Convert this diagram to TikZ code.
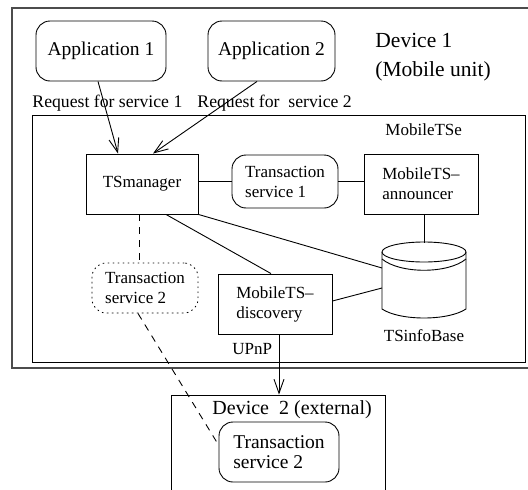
\documentclass[tikz,border=0pt]{standalone}
\usepackage{fontspec}
\setmainfont{Liberation Serif}
\usetikzlibrary{positioning}
\usetikzlibrary{arrows.meta}
\usetikzlibrary{calc}

\tikzset{
  box/.style={draw, inner sep=0pt, align=left, font=\fontsize{17}{20}\selectfont},
  rbox/.style={box, rounded corners=14pt},
  dotbox/.style={rbox, dash pattern=on 1pt off 4pt},
  lbl/.style={inner sep=0pt, anchor=west, font=\fontsize{17}{20}\selectfont},
  req/.style={-{Straight Barb[length=14pt,width=10pt]}},
  link/.style={dash pattern=on 7pt off 6pt},
}

\begin{document}
\begin{tikzpicture}[x=1pt,y=-1pt,line width=0.9pt]
    \clip (0,0) rectangle (528,490);

    % Frames of the two devices and of MobileTSe
    \draw[line width=1.6pt, black!70] (12,8) rectangle (560,368);
    \draw (32,115) rectangle (525,362);
    \node[draw, minimum width=214pt, minimum height=105pt] (dev2) at (278,447.5) {};

    % Applications
    \node[rbox, font=\fontsize{19.5}{23}\selectfont, minimum width=130pt, minimum height=60pt] (app1) at (101,51) {Application 1};
    \node[rbox, font=\fontsize{19.5}{23}\selectfont, minimum width=127pt, minimum height=60pt] (app2) at (271.5,51) {Application 2};
    \node[lbl, font=\fontsize{21.5}{29}\selectfont, align=left] (dev1label) at (375,57) {Device 1\\(Mobile unit)};

    \node[lbl, font=\fontsize{17.7}{20}\selectfont] (req1) at (32,103) {Request for service 1};
    \node[lbl, font=\fontsize{17.7}{20}\selectfont] (req2) at (197,103) {Request for\ \ service 2};
    \node[lbl] (tse) at (385,130) {MobileTSe};

    % Components inside MobileTSe
    \node[box, minimum width=112pt, minimum height=60pt, align=center] (tsman) at (142,184) {TSmanager};
    \node[rbox, minimum width=106pt, minimum height=53pt] (ts1) at (285,181.5) {Transaction\\service 1};
    \node[box, minimum width=114pt, minimum height=60pt] (ann) at (421,184) {MobileTS--\\announcer};
    \node[box, minimum width=114pt, minimum height=60pt] (disc) at (275,304) {MobileTS--\\discovery};
    \node[dotbox, line cap=round, minimum width=106pt, minimum height=50pt] (ts2) at (145,288) {Transaction\\service 2};

    % TSinfoBase cylinder
    \node[inner sep=0pt, minimum width=84pt, minimum height=76pt] (db) at (424,281) {};
    \draw (424,252) ellipse [x radius=42pt, y radius=10pt];
    \draw (382,259) .. controls (400,274) and (448,274) .. (466,259);
    \draw (382,252) -- (382,309) .. controls (400,321) and (448,321) .. (466,309) -- (466,252);
    \node[lbl, anchor=north, below=10pt of db] (dblabel) {TSinfoBase};
    \coordinate (dbtop) at (382,268);
    \coordinate (dbmid) at (382,288);

    \node[lbl] (upnp) at (232,349) {UPnP};

    % Device 2
    \node[lbl, font=\fontsize{20}{20}\selectfont] (dev2label) at (212,410) {Device\ \ 2 (external)};
    \node[rbox, font=\fontsize{19.5}{20}\selectfont, minimum width=120pt, minimum height=60pt] (ts2ext) at (279,452) {Transaction\\service 2};

    % Requests from the applications
    \draw[req] ([xshift=-3pt]app1.south) -- ([xshift=-24pt]tsman.north);
    \draw[req] ([xshift=-14.5pt]app2.south) -- ([xshift=11pt]tsman.north);

    % Plain links
    \draw (tsman.east |- ts1.west) -- (ts1.west);
    \draw (ts1.east) -- (ts1.east -| ann.west);
    \draw (db.north |- ann.south) -- (db.north);
    \draw ([xshift=24pt]tsman.south) -- ([xshift=-4pt]disc.north);
    \draw (tsman.south east) -- (dbtop);
    \draw ([yshift=3pt]disc.east) -- (dbmid);

    % Transaction service 2 is fetched from device 2
    \draw[link] ([xshift=-3pt]tsman.south) -- ([xshift=-3pt]tsman.south |- ts2.north);
    \draw[link] ([xshift=-7pt]ts2.south) -- ([yshift=7pt]ts2ext.west);
    \draw[req] ([xshift=4pt]disc.south) -- ([xshift=4pt]disc.south |- dev2.north);
\end{tikzpicture}
\end{document}
